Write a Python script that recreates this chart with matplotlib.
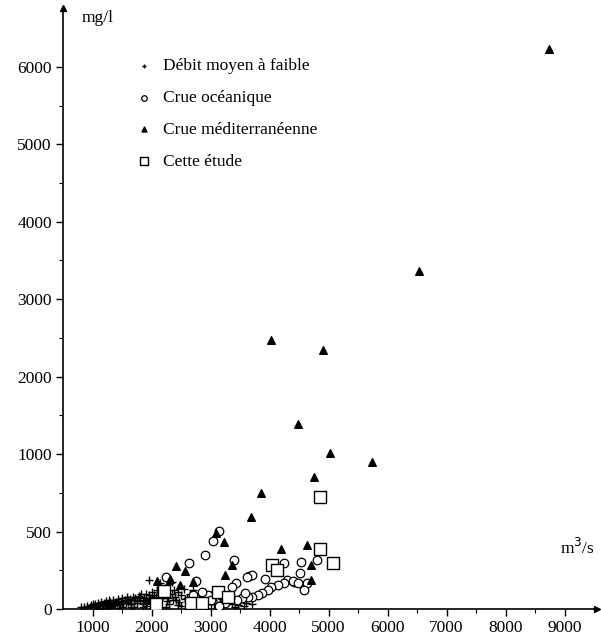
import numpy as np
import matplotlib
matplotlib.use("Agg")
import matplotlib.pyplot as plt

plt.rcParams['font.family'] = ['Liberation Serif', 'DejaVu Serif']

# Débit moyen à faible (+)
cross_x = [800, 850, 900, 950, 980, 1000, 1020, 1050, 1080, 1100, 1120, 1150, 1180, 1200, 1230,
           1250, 1280, 1300, 1330, 1350, 1380, 1400, 1430, 1450, 1480, 1500, 1520, 1550, 1580, 1600,
           1630, 1650, 1680, 1700, 1720, 1750, 1780, 1800, 1820, 1850, 1880, 1900, 1920, 1950, 1980,
           2000, 2030, 2050, 2080, 2100, 2130, 2150, 2180, 2200, 2250, 2280, 2300, 2350, 2380, 2400,
           2450, 2500, 2550, 2600, 2650, 2700, 2750, 2800, 2850, 2900, 2950, 3000, 3050, 3100, 3200,
           3300, 3400, 3500, 3600, 3700, 1100, 1300, 1500, 1700, 1900, 2100, 2300, 2500, 2700, 2900,
           1250, 1450, 1650, 1850, 2050, 2250, 2450, 2650, 1950, 2150, 2350,
           1060, 1160, 1260, 1360, 1460, 1560, 1660, 1760, 1860, 1960, 2060, 2160, 2260, 2360,
           2460, 2560, 2660, 2760, 2860, 2960, 3060, 3160, 3260, 3360, 3460, 3560,
           1210, 1410, 1610, 1810, 2010, 2210, 2410, 2610, 2810, 3010, 3210, 3410]
cross_y = [10, 15, 20, 12, 25, 30, 18, 35, 22, 40, 28, 45, 20, 38, 50,
           30, 55, 42, 25, 60, 35, 48, 65, 30, 52, 70, 40, 58, 75, 45,
           62, 35, 80, 55, 68, 40, 85, 60, 95, 50, 72, 100, 45, 88, 65,
           110, 55, 90, 75, 120, 60, 140, 85, 105, 130, 70, 160, 95, 125, 80,
           110, 90, 130, 70, 100, 120, 80, 95, 60, 110, 75, 90, 55, 80, 65,
           50, 70, 45, 40, 30, 8, 10, 12, 15, 20, 25, 30, 20, 35, 30,
           5, 8, 10, 15, 20, 15, 25, 20, 186, 170, 175,
           15, 25, 20, 35, 25, 40, 30, 50, 35, 60, 40, 70, 50, 60,
           45, 65, 55, 70, 40, 50, 35, 45, 30, 35, 25, 20,
           30, 40, 55, 75, 80, 90, 60, 50, 45, 30, 20, 15]

# Crue océanique (o)
ocean_x = [3150, 3040, 2900, 2630, 2760, 2250, 3400, 3440, 3660, 3710, 3610, 4250, 4540, 4810,
           4510, 4640, 4590, 4300, 4420, 4250, 4140, 4030, 3970, 3880, 3800, 3710, 3630, 3540,
           3450, 3330, 3250, 2950, 3580, 3930, 3150, 3000, 2850, 2700, 2200, 4390, 4480, 3360]
ocean_y = [505, 442, 346, 295, 180, 205, 318, 167, 212, 218, 205, 295, 306, 316,
           231, 167, 122, 190, 173, 167, 154, 141, 122, 103, 90, 77, 77, 70,
           60, 70, 40, 90, 103, 192, 20, 60, 110, 90, 110, 180, 170, 140]

# Crue méditerranéenne (triangles)
med_x = [8730, 6530, 4020, 4900, 4480, 5020, 5730, 4750, 3860, 3690, 4190, 4630, 4710, 4710,
         3100, 3230, 3360, 3240, 2410, 2560, 2320, 2480, 2700, 2100, 3100, 1300, 1900]
med_y = [6230, 3370, 2470, 2350, 1390, 1010, 950, 850, 750, 595, 390, 410, 282, 186,
         490, 435, 282, 220, 280, 248, 192, 154, 176, 180, 122, 30, 60]

# Cette étude (squares)
etude_x = [4850, 4860, 5070, 4040, 4120, 2220, 2070, 2670, 2850, 3130, 3300]
etude_y = [720, 385, 295, 282, 255, 115, 30, 38, 38, 112, 78]


def fwd(y):
    y = np.asarray(y, dtype=float)
    return np.where(y <= 1000, y, 1000 + (y - 1000) / 2)


def inv(y):
    y = np.asarray(y, dtype=float)
    return np.where(y <= 1000, y, 1000 + (y - 1000) * 2)


fig = plt.figure(figsize=(6.01, 6.40), dpi=100)
ax = fig.add_axes([63 / 601, 1 - 609 / 640, 534 / 601, 601 / 640])
ax.set_yscale('function', functions=(fwd, inv))

ax.scatter(cross_x, cross_y, marker='+', s=30, c='k', linewidths=1.0,
           label='Débit moyen à faible', zorder=2)
ax.scatter(ocean_x, ocean_y, marker='o', s=38, facecolors='white', edgecolors='k',
           linewidths=0.9, label='Crue océanique', zorder=3)
ax.scatter(med_x, med_y, marker='^', s=30, c='k', label='Crue méditerranéenne', zorder=4)
ax.scatter(etude_x, etude_y, marker='s', s=80, facecolors='white', edgecolors='k',
           linewidths=1.0, label='Cette étude', zorder=5)

ax.set_xlim(500, 9550)
ax.set_ylim(0, 6760)

ax.spines['top'].set_visible(False)
ax.spines['right'].set_visible(False)
ax.spines['left'].set_linewidth(1.2)
ax.spines['bottom'].set_linewidth(1.2)

ax.set_xticks([1000, 2000, 3000, 4000, 5000, 6000, 7000, 8000, 9000])
ax.set_xticks([1500, 2500, 3500, 4500, 5500, 6500, 7500, 8500], minor=True)
ax.set_yticks([0, 500, 1000, 2000, 3000, 4000, 5000, 6000])
ax.set_yticks([250, 750, 1500, 2500, 3500, 4500, 5500], minor=True)
ax.set_yticklabels(['0', '500', '1000', '2000', '3000', '4000', '5000', '6000'])
ax.tick_params(axis='both', which='major', length=5, width=1, labelsize=12.5, pad=3)
ax.tick_params(axis='both', which='minor', length=3, width=0.8)

# arrows at the ends of the axes
ax.plot(1, 0, marker='>', color='k', ms=5, transform=ax.transAxes, clip_on=False)
ax.plot(0, 1, marker='^', color='k', ms=5, transform=ax.transAxes, clip_on=False)

fig.text(82 / 601, 1 - 18 / 640, 'mg/l', fontsize=12.5, va='center', ha='left')
fig.text(560 / 601, 1 - 548 / 640, 'm$^3$/s', fontsize=12.5, va='center', ha='left')

ax.legend(loc='upper left', bbox_to_anchor=(0.125, 0.928), frameon=False, fontsize=12.5,
          handlelength=0.8, handletextpad=0.7, labelspacing=0.9, scatterpoints=1,
          markerscale=0.65, borderaxespad=0)

fig.savefig('out.png', dpi=100)
